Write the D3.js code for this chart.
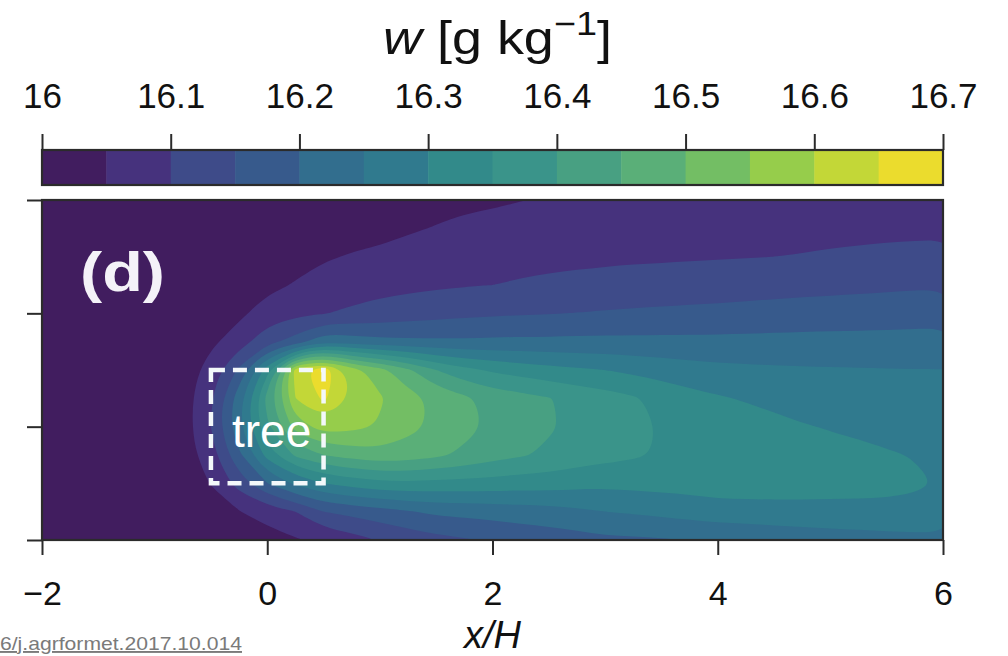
<!DOCTYPE html>
<html>
<head>
<meta charset="utf-8">
<script src="https://cdn.jsdelivr.net/npm/d3@7"></script>
<style>
  html, body { margin: 0; padding: 0; background: #ffffff; }
  svg { display: block; }
  text { font-family: "Liberation Sans", Arial, Helvetica, sans-serif; }
</style>
</head>
<body>
<svg id="chart" width="1008" height="656"></svg>
<script>
// ---------------- data ----------------
const xGrid = [-2, -1.75, -1.5, -1.25, -1, -0.75, -0.5, -0.25, 0, 0.25, 0.5, 0.75, 1, 1.25, 1.5, 1.75,
               2, 2.25, 2.5, 2.75, 3, 3.25, 3.5, 3.75, 4, 4.25, 4.5, 4.75, 5, 5.25, 5.5, 5.75, 6];
const zGrid = [0, 0.25, 0.5, 0.75, 1, 1.25, 1.5, 1.75, 2, 2.25, 2.5, 2.75, 3];

// w [g/kg], one column per xGrid entry, values listed bottom (z=0) to top (z=3)
const wByColumn = [
  [16.02,16.02,16.02,16.02,16.02,16.02,16.02,16.02,16.02,16.02,16.02,16.02,16.02],
  [16.02,16.02,16.02,16.02,16.02,16.02,16.02,16.02,16.02,16.02,16.02,16.02,16.02],
  [16.02,16.02,16.02,16.02,16.02,16.02,16.02,16.02,16.02,16.02,16.02,16.02,16.02],
  [16.02,16.02,16.02,16.02,16.02,16.02,16.02,16.02,16.02,16.02,16.02,16.02,16.02],
  [16.02,16.02,16.02,16.02,16.02,16.02,16.02,16.02,16.02,16.02,16.02,16.02,16.02],
  [16.02,16.02,16.02,16.022,16.025,16.025,16.022,16.02,16.02,16.02,16.02,16.02,16.02],
  [16.02,16.03,16.052,16.08,16.1,16.095,16.07,16.04,16.03,16.02,16.02,16.02,16.02],
  [16.025,16.048,16.12,16.19,16.24,16.23,16.16,16.075,16.04,16.025,16.02,16.02,16.02],
  [16.03,16.07,16.2,16.32,16.39,16.42,16.33,16.133,16.072,16.038,16.025,16.02,16.02],
  [16.045,16.1,16.26,16.41,16.52,16.6,16.625,16.17,16.089,16.053,16.035,16.025,16.02],
  [16.06,16.15,16.3,16.45,16.575,16.66,16.69,16.237,16.098,16.069,16.045,16.03,16.02],
  [16.08,16.165,16.32,16.47,16.565,16.597,16.575,16.225,16.108,16.078,16.053,16.035,16.022],
  [16.1,16.18,16.337,16.483,16.545,16.556,16.52,16.214,16.118,16.084,16.06,16.035,16.025],
  [16.12,16.195,16.34,16.475,16.515,16.52,16.46,16.211,16.126,16.089,16.067,16.045,16.032],
  [16.135,16.21,16.335,16.46,16.49,16.488,16.4,16.209,16.133,16.093,16.073,16.052,16.037],
  [16.145,16.215,16.333,16.44,16.465,16.46,16.364,16.208,16.138,16.097,16.077,16.058,16.042],
  [16.155,16.22,16.33,16.42,16.442,16.432,16.343,16.21,16.143,16.1,16.081,16.063,16.044],
  [16.165,16.226,16.325,16.405,16.424,16.418,16.328,16.211,16.146,16.105,16.084,16.067,16.049],
  [16.172,16.232,16.322,16.392,16.405,16.403,16.317,16.211,16.148,16.109,16.087,16.07,16.053],
  [16.18,16.24,16.316,16.376,16.39,16.385,16.307,16.212,16.151,16.113,16.089,16.073,16.056],
  [16.19,16.25,16.312,16.366,16.375,16.372,16.3,16.2125,16.1545,16.116,16.091,16.075,16.0595],
  [16.192,16.256,16.315,16.356,16.362,16.356,16.288,16.2126,16.157,16.119,16.093,16.077,16.062],
  [16.196,16.262,16.318,16.346,16.347,16.335,16.279,16.2125,16.159,16.121,16.094,16.079,16.063],
  [16.2,16.27,16.32,16.34,16.338,16.318,16.269,16.2126,16.1616,16.124,16.0955,16.081,16.066],
  [16.205,16.278,16.325,16.335,16.33,16.305,16.263,16.2125,16.163,16.126,16.097,16.082,16.068],
  [16.21,16.28,16.325,16.332,16.322,16.296,16.26,16.213,16.166,16.129,16.098,16.083,16.069],
  [16.215,16.283,16.323,16.328,16.313,16.287,16.257,16.214,16.169,16.131,16.1,16.085,16.07],
  [16.22,16.285,16.32,16.322,16.303,16.2805,16.2555,16.215,16.171,16.134,16.102,16.086,16.072],
  [16.225,16.287,16.316,16.315,16.297,16.276,16.254,16.2155,16.173,16.136,16.105,16.088,16.074],
  [16.228,16.289,16.313,16.31,16.292,16.272,16.253,16.216,16.175,16.138,16.107,16.089,16.074],
  [16.232,16.29,16.31,16.304,16.286,16.268,16.252,16.216,16.177,16.141,16.11,16.09,16.075],
  [16.236,16.288,16.306,16.298,16.28,16.265,16.251,16.217,16.179,16.143,16.112,16.09,16.075],
  [16.24,16.278,16.297,16.292,16.276,16.263,16.251,16.217,16.181,16.145,16.115,16.091,16.075]
];

// contour levels (colour-bar bins) and their colours
const levels = [16, 16.05, 16.1, 16.15, 16.2, 16.25, 16.3, 16.35, 16.4, 16.45, 16.5, 16.55, 16.6, 16.65, 16.7];
const levelColors = ["#411d5f", "#46327d", "#3e4b89", "#375a8c", "#326e8e", "#307a8e", "#328a8a",
                     "#3a948a", "#48a082", "#5aaf78", "#73be64", "#96cd4b", "#c3d737", "#ebdc2d"];
const cbarTicks = [16, 16.1, 16.2, 16.3, 16.4, 16.5, 16.6, 16.7];
const xTicks = [-2, 0, 2, 4, 6];
const zTicks = [0, 1, 2, 3];
const treeBox = { x0: -0.5, x1: 0.5, z0: 0.5, z1: 1.5 };

// ---------------- layout ----------------
const svg = d3.select("#chart");
const plot = { left: 42, right: 943, top: 200, bottom: 540 };
const cbar = { left: 42, right: 943, top: 150, bottom: 185 };
const FONT = '"Liberation Sans", Arial, Helvetica, sans-serif';

const xScale = d3.scaleLinear().domain([-2, 6]).range([plot.left, plot.right]);
const zScale = d3.scaleLinear().domain([0, 3]).range([plot.bottom, plot.top]);
const cScale = d3.scaleLinear().domain([16, 16.7]).range([cbar.left, cbar.right]);

// ---------------- contour field ----------------
const nx = xGrid.length, nz = zGrid.length;
const dx = xGrid[1] - xGrid[0], dz = zGrid[1] - zGrid[0];
const zTop = zGrid[nz - 1];
const values = new Array(nx * nz);
for (let r = 0; r < nz; r++) {          // r = 0 is the top row
  for (let c = 0; c < nx; c++) {
    values[r * nx + c] = wByColumn[c][nz - 1 - r];
  }
}
const contours = d3.contours().size([nx, nz]).thresholds(levels.slice(0, -1))(values);

const smoothLine = d3.line().curve(d3.curveBasisClosed);
function ringToPx(ring) {
  return ring.slice(0, -1).map(([cx, cy]) => [
    xScale(xGrid[0] + (cx - 0.5) * dx),
    zScale(zTop - (cy - 0.5) * dz)
  ]);
}
function contourPath(geom) {
  let d = "";
  for (const poly of geom.coordinates) {
    for (const ring of poly) {
      if (ring.length > 3) d += smoothLine(ringToPx(ring));
    }
  }
  return d;
}

svg.append("defs").append("clipPath").attr("id", "plotClip")
  .append("rect")
  .attr("x", plot.left).attr("y", plot.top)
  .attr("width", plot.right - plot.left).attr("height", plot.bottom - plot.top);

const field = svg.append("g").attr("clip-path", "url(#plotClip)");
field.append("rect")
  .attr("x", plot.left).attr("y", plot.top)
  .attr("width", plot.right - plot.left).attr("height", plot.bottom - plot.top)
  .attr("fill", levelColors[0]);
field.selectAll("path.level")
  .data(contours)
  .join("path")
  .attr("class", "level")
  .attr("d", d => contourPath(d))
  .attr("fill", (d, i) => levelColors[i])
  .attr("fill-rule", "evenodd")
  .attr("stroke", "none");

// tree box (dashed)
svg.append("rect")
  .attr("x", xScale(treeBox.x0))
  .attr("y", zScale(treeBox.z1))
  .attr("width", xScale(treeBox.x1) - xScale(treeBox.x0))
  .attr("height", zScale(treeBox.z0) - zScale(treeBox.z1))
  .attr("fill", "none")
  .attr("stroke", "#f3f8fa")
  .attr("stroke-width", 4.5)
  .attr("stroke-dasharray", "14,8");

svg.append("text")
  .attr("x", 232).attr("y", 447)
  .attr("fill", "#ffffff")
  .attr("font-size", 46)
  .text("tree");

svg.append("text")
  .attr("x", 80).attr("y", 291)
  .attr("fill", "#f4f2f8")
  .attr("font-size", 56)
  .attr("font-weight", "bold")
  .attr("textLength", 85)
  .attr("lengthAdjust", "spacingAndGlyphs")
  .text("(d)");

// frame
svg.append("rect")
  .attr("x", plot.left).attr("y", plot.top)
  .attr("width", plot.right - plot.left).attr("height", plot.bottom - plot.top)
  .attr("fill", "none").attr("stroke", "#2b2b2b").attr("stroke-width", 2.2);

// axes
const xAxis = svg.append("g")
  .attr("transform", `translate(0,${plot.bottom})`)
  .call(d3.axisBottom(xScale).tickValues(xTicks).tickSize(15).tickPadding(26)
    .tickFormat(d => d < 0 ? "\u2212" + Math.abs(d) : String(d)));
const zAxis = svg.append("g")
  .attr("transform", `translate(${plot.left},0)`)
  .call(d3.axisLeft(zScale).tickValues(zTicks).tickSize(15).tickFormat(""));
[xAxis, zAxis].forEach(g => {
  g.select(".domain").remove();
  g.selectAll(".tick line").attr("stroke", "#2b2b2b").attr("stroke-width", 2);
  g.selectAll(".tick text").attr("font-family", FONT).attr("font-size", 34).attr("fill", "#111");
});

svg.append("text")
  .attr("x", xScale(2)).attr("y", 648)
  .attr("text-anchor", "middle")
  .attr("font-size", 38)
  .attr("font-style", "italic")
  .attr("fill", "#111")
  .text("x/H");

// ---------------- colour bar ----------------
const bins = levelColors.map((col, i) => ({ lo: levels[i], hi: levels[i + 1], col }));
svg.append("g").selectAll("rect")
  .data(bins)
  .join("rect")
  .attr("x", d => cScale(d.lo))
  .attr("y", cbar.top)
  .attr("width", d => cScale(d.hi) - cScale(d.lo) + 0.5)
  .attr("height", cbar.bottom - cbar.top)
  .attr("fill", d => d.col);
svg.append("rect")
  .attr("x", cbar.left).attr("y", cbar.top)
  .attr("width", cbar.right - cbar.left).attr("height", cbar.bottom - cbar.top)
  .attr("fill", "none").attr("stroke", "#2b2b2b").attr("stroke-width", 2.2);

const cAxis = svg.append("g")
  .attr("transform", `translate(0,${cbar.top})`)
  .call(d3.axisTop(cScale).tickValues(cbarTicks).tickSize(16).tickPadding(26)
    .tickFormat(d => d === 16 ? "16" : d3.format(".1f")(d)));
cAxis.select(".domain").remove();
cAxis.selectAll(".tick line").attr("stroke", "#2b2b2b").attr("stroke-width", 2);
cAxis.selectAll(".tick text").attr("font-family", FONT).attr("font-size", 35).attr("fill", "#111");

// title  w [g kg^-1]
const title = svg.append("text")
  .attr("x", 497.5).attr("y", 54)
  .attr("text-anchor", "middle")
  .attr("font-size", 47)
  .attr("fill", "#111")
  .attr("textLength", 229)
  .attr("lengthAdjust", "spacingAndGlyphs");
title.append("tspan").attr("font-style", "italic").text("w");
title.append("tspan").text(" [g kg");
title.append("tspan").attr("font-size", 33).attr("dy", -19).text("\u22121");
title.append("tspan").attr("dy", 19).text("]");

// source link fragment (cut at the left edge)
svg.append("text")
  .attr("x", 0).attr("y", 650)
  .attr("font-size", 19)
  .attr("fill", "#7a7a7a")
  .attr("text-decoration", "underline")
  .attr("textLength", 242)
  .attr("lengthAdjust", "spacingAndGlyphs")
  .text("6/j.agrformet.2017.10.014");
</script>
</body>
</html>
